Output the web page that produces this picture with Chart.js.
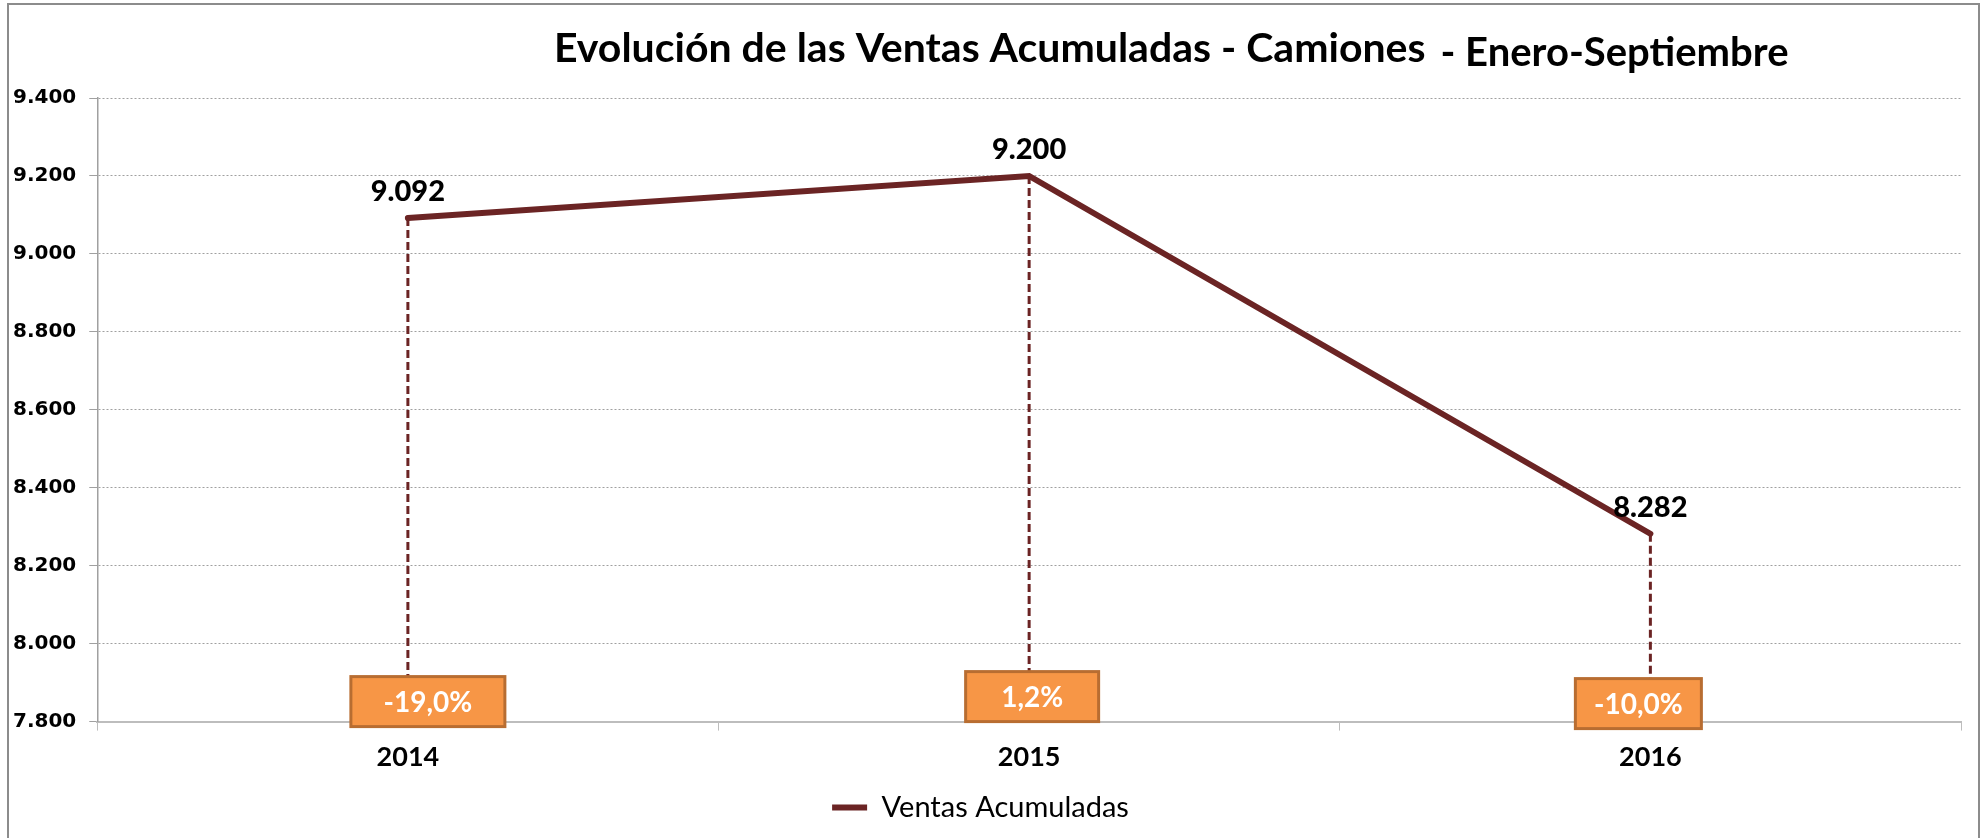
<!DOCTYPE html>
<html>
<head>
<meta charset="utf-8">
<script src="https://cdn.jsdelivr.net/npm/chart.js@4.4.1/dist/chart.umd.min.js"></script>
<style>
  html, body { margin: 0; padding: 0; background: #ffffff; }
  canvas { display: block; }
</style>
</head>
<body>
<canvas id="c" width="1984" height="838"></canvas>
<script>
// ---- data ----
const categories = ['2014', '2015', '2016'];
const seriesName = 'Ventas Acumuladas';
const ventas = [9092, 9200, 8282];
const variacion = [-19.0, 1.2, -10.0];
const yTicks = [7800, 8000, 8200, 8400, 8600, 8800, 9000, 9200, 9400];
const titleMain = 'Evolución de las Ventas Acumuladas - Camiones';
const titleSub = '- Enero-Septiembre';

// ---- helpers ----
function fmtMiles(v) {
  return String(Math.round(v)).replace(/\B(?=(\d{3})+(?!\d))/g, '.');
}
function fmtPct(v) {
  return v.toFixed(1).replace('.', ',') + '%';
}

const LINE = '#6b2424';

const decorPlugin = {
  id: 'decor',
  beforeDraw(chart) {
    const ctx = chart.ctx;
    ctx.save();
    ctx.fillStyle = '#ffffff';
    ctx.fillRect(0, 0, chart.width, chart.height);
    ctx.strokeStyle = '#8c8c8c';
    ctx.lineWidth = 2;
    ctx.strokeRect(8, 4, chart.width - 13, chart.height + 10);
    ctx.restore();
  },
  afterDraw(chart) {
    const ctx = chart.ctx;
    ctx.save();
    ctx.fillStyle = '#000000';
    ctx.textBaseline = 'alphabetic';
    ctx.textAlign = 'left';
    ctx.font = 'bold 41px Lato';
    const x0 = 554;
    ctx.fillText(titleMain, x0, 62);
    const w = ctx.measureText(titleMain).width;
    ctx.font = 'bold 40px Lato';
    ctx.fillText(titleSub, x0 + w + 15, 66);
    ctx.restore();
  },
  beforeDatasetsDraw(chart) {
    const ctx = chart.ctx;
    const meta = chart.getDatasetMeta(0);
    const yScale = chart.scales.y;
    ctx.save();
    ctx.strokeStyle = LINE;
    ctx.lineWidth = 3;
    ctx.setLineDash([8, 4]);
    meta.data.forEach((pt) => {
      ctx.beginPath();
      ctx.moveTo(pt.x, pt.y);
      ctx.lineTo(pt.x, yScale.bottom);
      ctx.stroke();
    });
    ctx.restore();
  },
  afterDatasetsDraw(chart, args, opts) {
    const ctx = chart.ctx;
    const meta = chart.getDatasetMeta(0);
    const yScale = chart.scales.y;
    ctx.save();
    // value labels
    ctx.fillStyle = '#000000';
    ctx.font = '900 29px Lato';
    ctx.textAlign = 'center';
    ctx.textBaseline = 'alphabetic';
    meta.data.forEach((pt, i) => {
      ctx.fillText(fmtMiles(ventas[i]), pt.x, pt.y - 17);
    });
    // variation boxes
    meta.data.forEach((pt, i) => {
      const b = opts.boxes[i];
      const cx = pt.x + b.dx;
      const cy = yScale.bottom + b.dy;
      const bw = b.w, bh = 50;
      ctx.fillStyle = '#f79646';
      ctx.fillRect(cx - bw / 2, cy - bh / 2, bw, bh);
      ctx.strokeStyle = '#b86d31';
      ctx.lineWidth = 3;
      ctx.strokeRect(cx - bw / 2, cy - bh / 2, bw, bh);
      ctx.fillStyle = '#ffffff';
      ctx.font = 'bold 28px Lato';
      ctx.textAlign = 'center';
      ctx.textBaseline = 'middle';
      ctx.fillText(fmtPct(variacion[i]), cx, cy + 1);
    });
    ctx.restore();
  }
};

new Chart(document.getElementById('c'), {
  type: 'line',
  data: {
    labels: categories,
    datasets: [{
      label: seriesName,
      data: ventas,
      borderColor: LINE,
      backgroundColor: LINE,
      borderWidth: 6,
      borderCapStyle: 'round',
      borderJoinStyle: 'miter',
      pointRadius: 0,
      pointHoverRadius: 0,
      tension: 0,
      fill: false
    }]
  },
  options: {
    responsive: false,
    animation: false,
    events: [],
    layout: { padding: { top: 98, left: 0, right: 23, bottom: 6 } },
    scales: {
      x: {
        type: 'category',
        offset: true,
        grid: {
          display: true,
          drawOnChartArea: false,
          drawTicks: true,
          tickLength: 9,
          tickColor: '#bdbdbd',
          offset: true
        },
        border: { display: true, color: '#bdbdbd', width: 2 },
        ticks: {
          color: '#000000',
          font: { family: 'Lato', weight: 'bold', size: 27 },
          padding: 10
        }
      },
      y: {
        min: 7800,
        max: 9400,
        afterBuildTicks(scale) {
          scale.ticks = yTicks.map(v => ({ value: v }));
        },
        grid: {
          display: true,
          color: '#a0a0a0',
          lineWidth: 1,
          tickLength: 8,
          tickColor: '#a0a0a0'
        },
        border: { display: true, color: '#a0a0a0', width: 1.5, dash: [2, 2] },
        ticks: {
          color: '#000000',
          font: { family: 'DejaVu Sans', weight: 'bold', size: 20 },
          padding: 13,
          callback: (v) => fmtMiles(v)
        }
      }
    },
    plugins: {
      title: { display: false },
      tooltip: { enabled: false },
      legend: {
        display: true,
        position: 'bottom',
        labels: {
          color: '#000000',
          font: { family: 'Lato', size: 29 },
          usePointStyle: true,
          pointStyle: 'line',
          pointStyleWidth: 35,
          padding: 10
        }
      },
      decor: {
        boxes: [
          { dx: 20, dy: -20, w: 154 },
          { dx: 3, dy: -25, w: 133 },
          { dx: -12, dy: -18, w: 126 }
        ]
      }
    }
  },
  plugins: [decorPlugin]
});
</script>
</body>
</html>
